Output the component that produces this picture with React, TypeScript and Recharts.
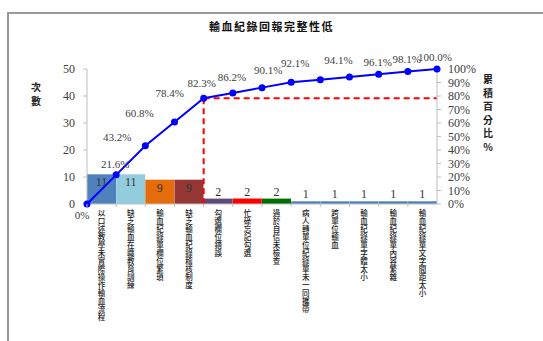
import { ComposedChart, Bar, Line, XAxis, YAxis, Cell, LabelList, ReferenceLine } from "recharts";

const categories = [
  "以口述教學未實際操作輸血流程",
  "缺乏輸血在職教育訓練",
  "輸血紀錄單欄位繁瑣",
  "缺乏輸血紀錄稽核制度",
  "勾選欄位錯誤",
  "忙碌忘記勾選",
  "過於自信未檢查",
  "病人轉單位紀錄單未一同攜帶",
  "跨單位輸血",
  "輸血紀錄單字體太小",
  "輸血紀錄單內容繁雜",
  "輸血紀錄單文字間距太小",
];
const counts = [11, 11, 9, 9, 2, 2, 2, 1, 1, 1, 1, 1];
const barColors = [
  "#4f81bd", "#93cddd", "#e46c0a", "#953735", "#604a7b", "#ff0000",
  "#007000", "#4f81bd", "#4f81bd", "#4f81bd", "#4f81bd", "#4f81bd",
];
// cumulative % at each category boundary (0 .. 12)
const cumPercent = [0, 21.6, 43.2, 60.8, 78.4, 82.3, 86.2, 90.1, 92.1, 94.1, 96.1, 98.1, 100];
const cumLabels = ["0%", "21.6%", "43.2%", "60.8%", "78.4%", "82.3%", "86.2%", "90.1%", "92.1%", "94.1%", "96.1%", "98.1%", "100.0%"];
const leftTicks = [0, 10, 20, 30, 40, 50];
const rightTicks = [0, 10, 20, 30, 40, 50, 60, 70, 80, 90, 100];
const vitalFew = 4; // boundary of the red 80/20 line

const barData = categories.map((name, i) => ({ name, count: counts[i] }));
const lineData = cumPercent.map((cum, i) => ({ pos: i, cum, label: cumLabels[i] }));

// hand-placed label offsets, like the original worksheet
const labelDx = [-5, -1, -28, -35, -34, -31, -30, -23, -25, -11, -1, -1, -2];
const labelDy = [11, -11, -9, -9, -5, -10, -11, -12, -17, -17, -12, -13, -12];

const serif = "'Liberation Serif', 'Times New Roman', serif";
const cjk = "'Noto Sans CJK TC', sans-serif";
const W = 543;
const H = 341;
const catWidth = 350 / categories.length;

const VerticalTick = (props: any) => {
  const { x, y, payload } = props;
  return (
    <g>
      <line x1={x - catWidth / 2} x2={x - catWidth / 2} y1={y - 8} y2={y - 5} stroke="#bfbfbf" />
      <text
        x={x}
        y={y - 3}
        fontSize={7.5}
        fontWeight={500}
        fill="#1a1a1a"
        fontFamily={cjk}
        style={{ writingMode: "vertical-rl", letterSpacing: 0.5 }}
      >
        {payload.value}
      </text>
    </g>
  );
};

const renderBarLabel = (p: any) => {
  const { x, y, width, value } = p;
  const cy = value >= 5 ? y + 8 : y - 7;
  return (
    <text x={x + width / 2} y={cy} textAnchor="middle" dominantBaseline="central" fontSize={12} fill="#333" fontFamily={serif}>
      {value}
    </text>
  );
};

const renderLineLabel = (p: any) => {
  const { x, y, index } = p;
  return (
    <text
      x={x + labelDx[index]}
      y={y + labelDy[index]}
      textAnchor="middle"
      dominantBaseline="central"
      fontSize={11}
      fill="#404040"
      fontFamily={serif}
    >
      {cumLabels[index]}
    </text>
  );
};

export default function App() {
  return (
    <div style={{ position: "absolute", left: 0, top: 0, width: W, height: H, overflow: "hidden", background: "#fff" }}>
      <div
        style={{
          position: "absolute",
          left: 7,
          top: 12,
          width: 700,
          height: 500,
          borderLeft: "2px solid #9a9a9a",
          borderTop: "2px solid #9a9a9a",
        }}
      />
      <div
        style={{
          position: "absolute",
          left: 0,
          width: W,
          top: 18,
          textAlign: "center",
          fontFamily: cjk,
          fontSize: 11,
          fontWeight: 700,
          letterSpacing: 1.5,
          color: "#111",
        }}
      >
        輸血紀錄回報完整性低
      </div>
      <div
        style={{
          position: "absolute",
          left: 31,
          top: 80,
          width: 12,
          fontFamily: cjk,
          fontSize: 10,
          fontWeight: 700,
          lineHeight: "14px",
          color: "#222",
        }}
      >
        次<br />數
      </div>
      <div
        style={{
          position: "absolute",
          left: 482,
          top: 72,
          width: 12,
          fontFamily: cjk,
          fontSize: 10,
          fontWeight: 700,
          lineHeight: "13.5px",
          color: "#222",
          textAlign: "center",
        }}
      >
        累<br />積<br />百<br />分<br />比<br />%
      </div>
      <div style={{ position: "absolute", left: 0, top: 0 }}>
        <ComposedChart
          width={W}
          height={H}
          data={barData}
          margin={{ top: 69, right: 56, bottom: 7, left: 47 }}
          barCategoryGap={0}
        >
          <XAxis
            xAxisId="cat"
            dataKey="name"
            interval={0}
            height={130}
            tick={<VerticalTick />}
            tickLine={false}
            axisLine={{ stroke: "#bfbfbf" }}
          />
          <XAxis xAxisId="num" type="number" dataKey="pos" domain={[0, 12]} hide />
          <YAxis
            yAxisId="left"
            domain={[0, 50]}
            ticks={leftTicks}
            interval={0}
            width={40}
            tickSize={4}
            tickMargin={8}
            axisLine={{ stroke: "#bfbfbf" }}
            tickLine={{ stroke: "#bfbfbf" }}
            tick={{ fontSize: 12, fill: "#404040", fontFamily: serif }}
          />
          <YAxis
            yAxisId="right"
            orientation="right"
            domain={[0, 100]}
            ticks={rightTicks}
            interval={0}
            width={50}
            tickSize={4}
            tickMargin={7}
            tickFormatter={(v: number) => `${v}%`}
            axisLine={{ stroke: "#bfbfbf" }}
            tickLine={{ stroke: "#bfbfbf" }}
            tick={{ fontSize: 12, fill: "#404040", fontFamily: serif }}
          />
          <Bar xAxisId="cat" yAxisId="left" dataKey="count" isAnimationActive={false}>
            {barData.map((d, i) => (
              <Cell key={d.name} fill={barColors[i]} />
            ))}
            <LabelList dataKey="count" content={renderBarLabel} />
          </Bar>
          <ReferenceLine
            xAxisId="num"
            yAxisId="right"
            segment={[
              { x: vitalFew, y: cumPercent[vitalFew] },
              { x: vitalFew, y: 0 },
            ]}
            stroke="#ff0000"
            strokeWidth={2}
            strokeDasharray="6 4"
          />
          <ReferenceLine
            xAxisId="num"
            yAxisId="right"
            segment={[
              { x: vitalFew, y: cumPercent[vitalFew] },
              { x: categories.length, y: cumPercent[vitalFew] },
            ]}
            stroke="#ff0000"
            strokeWidth={2}
            strokeDasharray="6 4"
          />
          <Line
            xAxisId="num"
            yAxisId="right"
            data={lineData}
            dataKey="cum"
            stroke="#0000ff"
            strokeWidth={2}
            dot={{ r: 2.5, fill: "#0000ff", stroke: "#0000ff" }}
            isAnimationActive={false}
          >
            <LabelList dataKey="cum" content={renderLineLabel} />
          </Line>
        </ComposedChart>
      </div>
    </div>
  );
}
